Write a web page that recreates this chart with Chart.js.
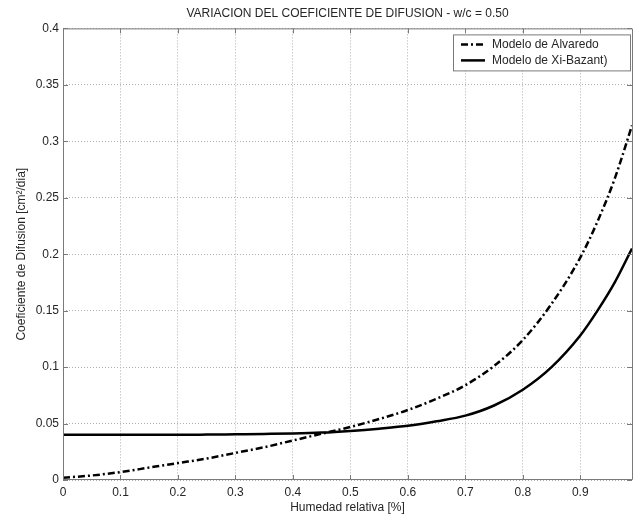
<!DOCTYPE html>
<html>
<head>
<meta charset="utf-8">
<script src="https://cdn.jsdelivr.net/npm/chart.js@4/dist/chart.umd.min.js"></script>
<style>
  html, body { margin: 0; padding: 0; background: #fff; }
  #wrap { width: 633px; height: 515px; }
</style>
</head>
<body>
<div id="wrap"><canvas id="c" width="633" height="515"></canvas></div>
<script>
// Relative humidity samples and diffusion coefficients [cm²/dia]
const humedad  = [0, 0.05, 0.10, 0.15, 0.20, 0.25, 0.30, 0.35, 0.40, 0.45, 0.50, 0.55, 0.60, 0.65, 0.70, 0.75, 0.80, 0.85, 0.90, 0.93, 0.96, 0.99];
const alvaredo = [0.002, 0.004, 0.007, 0.011, 0.015, 0.019, 0.024, 0.029, 0.035, 0.041, 0.047, 0.054, 0.062, 0.072, 0.084, 0.101, 0.124, 0.156, 0.197, 0.229, 0.267, 0.314];
const xiBazant = [0.040, 0.040, 0.040, 0.040, 0.040, 0.0402, 0.0405, 0.0408, 0.0412, 0.042, 0.0435, 0.0455, 0.048, 0.052, 0.057, 0.066, 0.080, 0.100, 0.128, 0.150, 0.175, 0.205];

const xTicks = [0, 0.1, 0.2, 0.3, 0.4, 0.5, 0.6, 0.7, 0.8, 0.9];
const yTicks = [0, 0.05, 0.1, 0.15, 0.2, 0.25, 0.3, 0.35, 0.4];
const seriesNames = ['Modelo de Alvaredo', 'Modelo de Xi-Bazant)'];

const FONT = 'Liberation Sans, Arial, Helvetica, sans-serif';
const TEXT = '#262626';
const AXIS = '#7a7a7a';

const pts = (ys) => humedad.map((x, i) => ({ x: x, y: ys[i] }));
const fmt = (v) => String(+v.toFixed(2));

// Axes box with inward tick marks on all four sides
const boxPlugin = {
  id: 'boxTicks',
  afterDatasetsDraw(chart) {
    const { ctx, chartArea: a, scales } = chart;
    ctx.save();
    ctx.strokeStyle = AXIS;
    ctx.lineWidth = 1;
    ctx.setLineDash([]);
    ctx.beginPath();
    ctx.rect(a.left + 0.5, a.top + 0.5, a.right - a.left, a.bottom - a.top - 1);
    const L = 5;
    xTicks.forEach(v => {
      const px = Math.round(scales.x.getPixelForValue(v)) + 0.5;
      ctx.moveTo(px, a.bottom); ctx.lineTo(px, a.bottom - L);
      ctx.moveTo(px, a.top); ctx.lineTo(px, a.top + L);
    });
    yTicks.forEach(v => {
      const py = Math.round(scales.y.getPixelForValue(v)) + 0.5;
      ctx.moveTo(a.left, py); ctx.lineTo(a.left + L, py);
      ctx.moveTo(a.right, py); ctx.lineTo(a.right - L, py);
    });
    ctx.stroke();
    ctx.restore();
  }
};

// Boxed legend inside the upper-right corner of the plot
const legendPlugin = {
  id: 'boxLegend',
  afterDraw(chart) {
    const { ctx, chartArea: a } = chart;
    const w = 177, h = 36;
    const x0 = a.right - w - 2, y0 = a.top + 6;
    ctx.save();
    ctx.fillStyle = '#fff';
    ctx.fillRect(x0, y0, w, h);
    ctx.strokeStyle = AXIS;
    ctx.lineWidth = 1;
    ctx.setLineDash([]);
    ctx.strokeRect(x0 + 0.5, y0 + 0.5, w, h);
    ctx.font = '12px ' + FONT;
    ctx.textBaseline = 'middle';
    chart.data.datasets.forEach((ds, i) => {
      const cy = y0 + 10 + i * 16;
      ctx.strokeStyle = ds.borderColor;
      ctx.lineWidth = ds.borderWidth;
      ctx.setLineDash(ds.borderDash || []);
      ctx.beginPath();
      ctx.moveTo(x0 + 8, cy); ctx.lineTo(x0 + 32, cy);
      ctx.stroke();
      ctx.fillStyle = TEXT;
      ctx.fillText(ds.label, x0 + 39, cy);
    });
    ctx.restore();
  }
};

const gridOpts = { color: '#b0b0b0', lineWidth: 1, drawTicks: false };
const gridBorder = { display: false, dash: [1, 2] };

new Chart(document.getElementById('c'), {
  type: 'line',
  data: {
    datasets: [
      { label: seriesNames[0], data: pts(alvaredo), borderColor: '#000', borderWidth: 2.5,
        borderDash: [7, 3, 2, 3], pointRadius: 0, cubicInterpolationMode: 'monotone', fill: false },
      { label: seriesNames[1], data: pts(xiBazant), borderColor: '#000', borderWidth: 2.5,
        pointRadius: 0, cubicInterpolationMode: 'monotone', fill: false }
    ]
  },
  options: {
    responsive: false,
    animation: false,
    layout: { padding: { left: 0, right: 1, top: 0, bottom: 0 } },
    plugins: {
      legend: { display: false },
      tooltip: { enabled: false },
      title: {
        display: true,
        text: 'VARIACION DEL COEFICIENTE DE DIFUSION - w/c = 0.50',
        color: TEXT,
        fullSize: false,
        font: { family: FONT, size: 12, weight: 'normal' },
        padding: { top: 6, bottom: 8 }
      }
    },
    scales: {
      x: {
        type: 'linear',
        min: 0, max: 0.99,
        afterBuildTicks: (s) => { s.ticks = xTicks.map(v => ({ value: v })); },
        afterFit: (s) => { s.height = 35; },
        border: gridBorder,
        grid: gridOpts,
        ticks: { color: TEXT, font: { family: FONT, size: 12 }, padding: 5, maxRotation: 0,
                 callback: (v) => fmt(v) },
        title: { display: true, text: 'Humedad relativa [%]', color: TEXT,
                 font: { family: FONT, size: 12 }, padding: { top: 0, bottom: 0 } }
      },
      y: {
        type: 'linear',
        min: 0, max: 0.4,
        afterBuildTicks: (s) => { s.ticks = yTicks.map(v => ({ value: v })); },
        afterFit: (s) => { s.width = 63; },
        border: gridBorder,
        grid: gridOpts,
        ticks: { color: TEXT, font: { family: FONT, size: 12 }, padding: 4,
                 callback: (v) => fmt(v) },
        title: { display: true, text: 'Coeficiente de Difusion [cm²/dia]', color: TEXT,
                 font: { family: FONT, size: 12 }, padding: { top: 14, bottom: 0 } }
      }
    }
  },
  plugins: [boxPlugin, legendPlugin]
});
</script>
</body>
</html>
